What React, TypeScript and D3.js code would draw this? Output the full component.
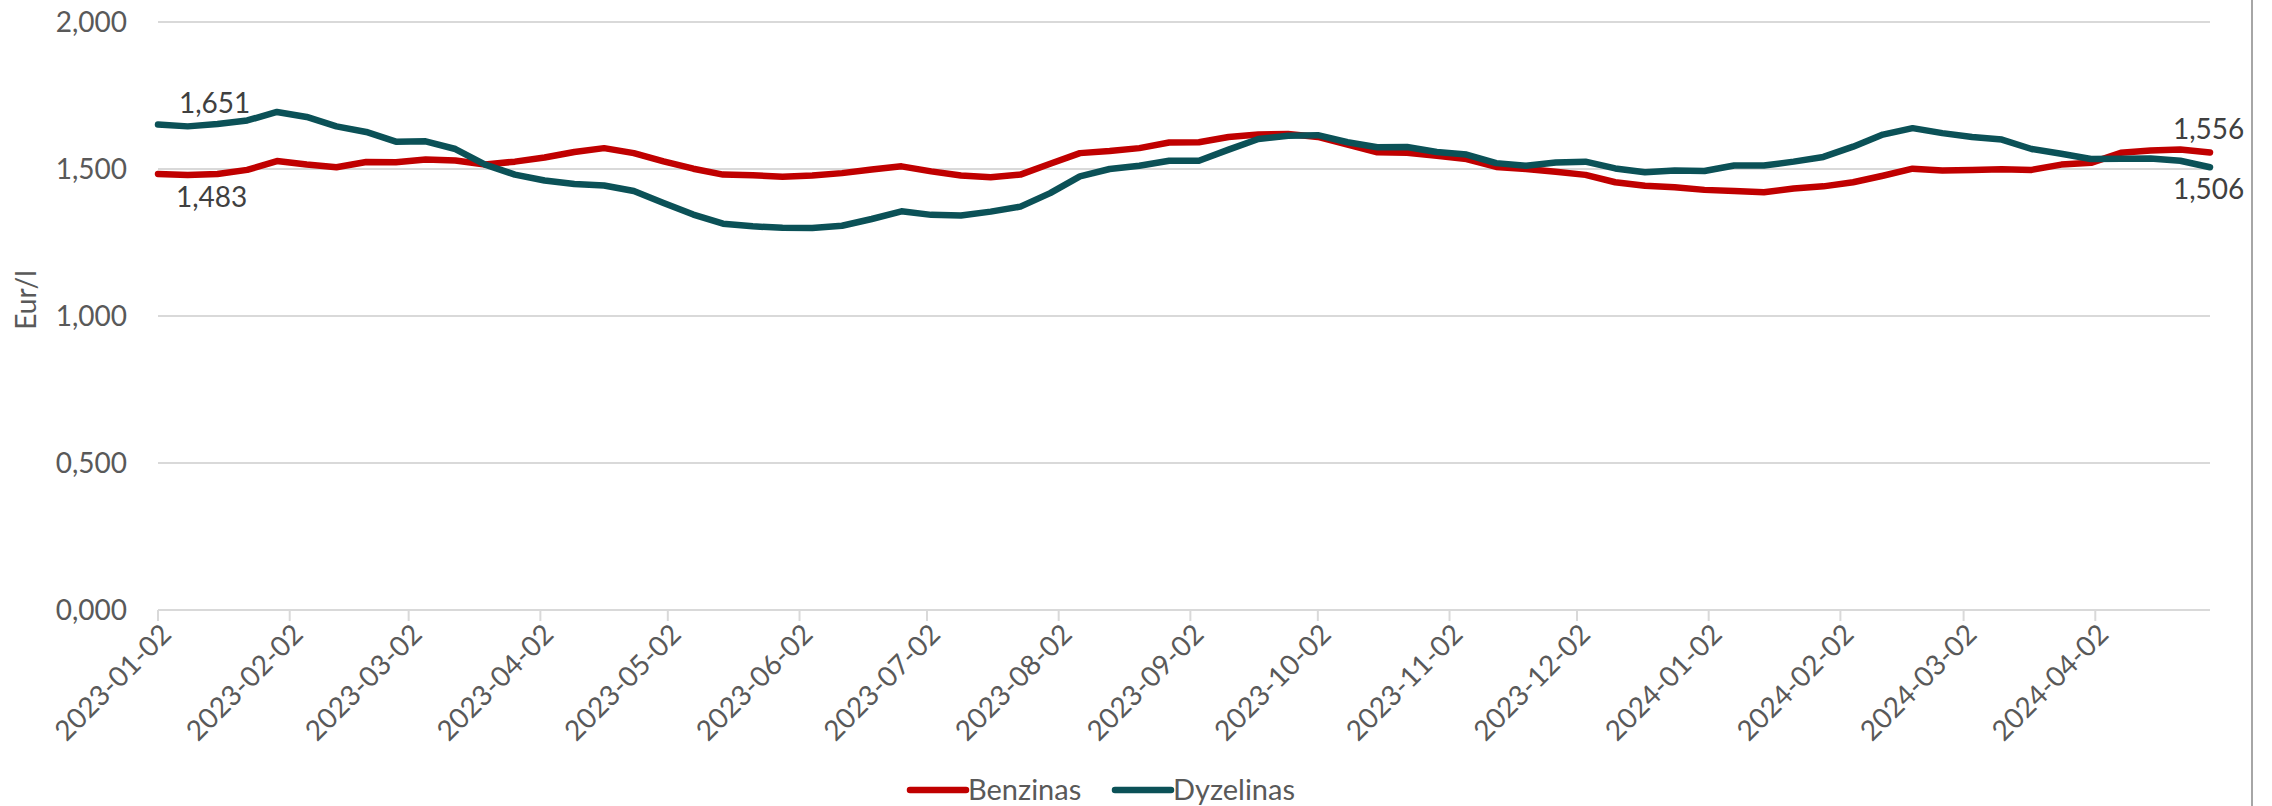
import * as d3 from 'd3'

const benzinas = [
    1.483, 1.480, 1.483, 1.497, 1.527, 1.515, 1.506, 1.524, 1.523, 1.532,
    1.529, 1.515, 1.525, 1.539, 1.558, 1.571, 1.554, 1.526, 1.501, 1.481,
    1.479, 1.474, 1.478, 1.486, 1.498, 1.509, 1.492, 1.478, 1.472, 1.481,
    1.518, 1.554, 1.561, 1.571, 1.590, 1.591, 1.609, 1.617, 1.619, 1.609,
    1.583, 1.557, 1.555, 1.545, 1.534, 1.507, 1.500, 1.491, 1.480, 1.455,
    1.443, 1.438, 1.429, 1.425, 1.421, 1.434, 1.441, 1.455, 1.477, 1.501,
    1.495, 1.497, 1.499, 1.497, 1.515, 1.521, 1.555, 1.563, 1.566, 1.556
]

const dyzelinas = [
    1.651, 1.645, 1.653, 1.665, 1.694, 1.677, 1.645, 1.626, 1.593, 1.594,
    1.568, 1.515, 1.481, 1.461, 1.449, 1.444, 1.425, 1.384, 1.345, 1.314,
    1.305, 1.300, 1.299, 1.307, 1.330, 1.356, 1.344, 1.342, 1.355, 1.372,
    1.418, 1.475, 1.500, 1.511, 1.528, 1.528, 1.566, 1.602, 1.613, 1.615,
    1.591, 1.574, 1.575, 1.558, 1.549, 1.520, 1.511, 1.522, 1.525, 1.502,
    1.489, 1.495, 1.493, 1.512, 1.512, 1.525, 1.541, 1.576, 1.617, 1.639,
    1.622, 1.609, 1.600, 1.568, 1.552, 1.534, 1.535, 1.536, 1.528, 1.506
]

// weekly readings, first one on this monday
const firstWeek = '2023-01-02'

const tickLabels = [
    '2023-01-02', '2023-02-02', '2023-03-02', '2023-04-02', '2023-05-02', '2023-06-02',
    '2023-07-02', '2023-08-02', '2023-09-02', '2023-10-02', '2023-11-02', '2023-12-02',
    '2024-01-02', '2024-02-02', '2024-03-02', '2024-04-02'
]

const yTicks = [0, 0.5, 1, 1.5, 2]

const seriesNames = ['Benzinas', 'Dyzelinas']
const colors = ['#c00000', '#0b5157']

const parse = d3.utcParse('%Y-%m-%d')
const start = parse(firstWeek)
const dates = benzinas.map((d, i) => d3.utcWeek.offset(start, i))

const lt = d3.formatLocale({ decimal: ',', thousands: ' ', grouping: [3], currency: ['', ''] })
const fmt = lt.format('.3f')

const font = 'Lato, "Open Sans", sans-serif'

const App = () => {
    const width = 2272
    const height = 806
    const left = 158
    const right = 2210
    const top = 22
    const bottom = 610

    const x = d3.scaleUtc()
        .domain([dates[0], dates[dates.length - 1]])
        .range([left, right])

    const y = d3.scaleLinear()
        .domain([0, 2])
        .range([bottom, top])

    const line = d3.line<number>()
        .x((d, i) => x(dates[i]))
        .y(d => y(d))

    const last = dates.length - 1

    return (
        <div style={{ position: 'absolute', left: 0, top: 0 }}>
            <svg width={width} height={height} style={{ display: 'block', background: '#fff' }}>
                {yTicks.map(t => (
                    <g key={t}>
                        <line x1={left} x2={right} y1={y(t)} y2={y(t)} stroke="#d9d9d9" strokeWidth={2} />
                        <text x={127} y={y(t)} dy="0.35em" textAnchor="end" fontFamily={font} fontSize={28} fill="#595959">
                            {fmt(t)}
                        </text>
                    </g>
                ))}
                {tickLabels.map(t => {
                    const tx = x(parse(t))
                    return (
                        <g key={t}>
                            <line x1={tx} x2={tx} y1={bottom} y2={bottom + 11} stroke="#d9d9d9" strokeWidth={2} />
                            <text
                                transform={`translate(${tx + 15},${bottom + 26}) rotate(-45)`}
                                textAnchor="end"
                                fontFamily={font}
                                fontSize={28}
                                fill="#595959"
                            >
                                {t}
                            </text>
                        </g>
                    )
                })}
                <text
                    transform="translate(36,300) rotate(-90)"
                    textAnchor="middle"
                    fontFamily={font}
                    fontSize={28}
                    fill="#595959"
                >
                    Eur/l
                </text>
                {[benzinas, dyzelinas].map((s, k) => (
                    <path
                        key={k}
                        d={line(s)}
                        fill="none"
                        stroke={colors[k]}
                        strokeWidth={6.5}
                        strokeLinejoin="round"
                        strokeLinecap="round"
                    />
                ))}
                <text x={179} y={113} fontFamily={font} fontSize={28} fill="#404040">{fmt(dyzelinas[0])}</text>
                <text x={176} y={207} fontFamily={font} fontSize={28} fill="#404040">{fmt(benzinas[0])}</text>
                <text x={2173} y={139} fontFamily={font} fontSize={28} fill="#404040">{fmt(benzinas[last])}</text>
                <text x={2173} y={199} fontFamily={font} fontSize={28} fill="#404040">{fmt(dyzelinas[last])}</text>
                <line x1={2252} x2={2252} y1={0} y2={height} stroke="#a6a6a6" strokeWidth={2} />
                {seriesNames.map((n, k) => {
                    const lx = k === 0 ? 910 : 1115
                    return (
                        <g key={n}>
                            <line x1={lx} x2={lx + 56} y1={790} y2={790} stroke={colors[k]} strokeWidth={6.5} strokeLinecap="round" />
                            <text x={lx + 58} y={790} dy="0.35em" fontFamily={font} fontSize={29} fill="#595959">{n}</text>
                        </g>
                    )
                })}
            </svg>
        </div>
    )
}

export default App
